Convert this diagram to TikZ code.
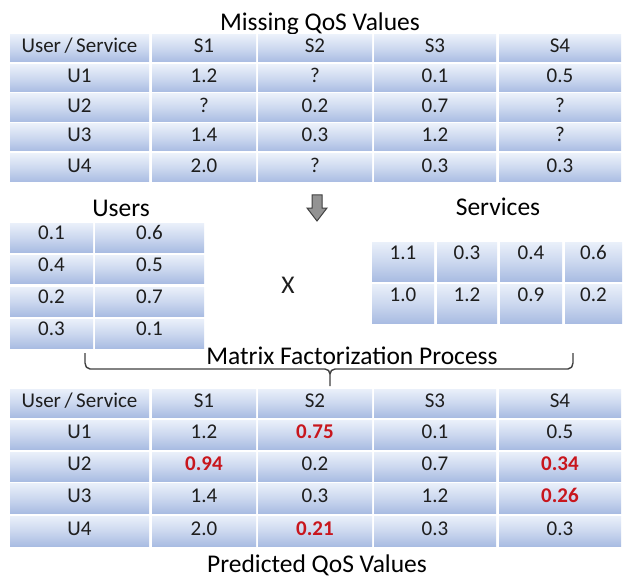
\documentclass[tikz,border=0pt]{standalone}
\usepackage{fontspec}
\setmainfont{Carlito}
\definecolor{cellTop}{HTML}{EAF0FA}
\definecolor{cellMid}{HTML}{CCD8EF}
\definecolor{cellBot}{HTML}{A9BCE2}
\definecolor{txt}{HTML}{1E1E1E}
\definecolor{predred}{HTML}{C8161D}
\definecolor{brc}{HTML}{404040}
\newcommand\cellfont{\fontsize{21}{24}\selectfont}
\newcommand\titlefont{\fontsize{25.5}{30}\selectfont}
\newcommand\us{User\,/\,Service}
\newcommand\rv[1]{\textcolor{predred}{\textbf{#1}}}
% #1 prefix, #2 y1, #3 y2, #4 depth, #5 list xa/xb/text
\newcommand\trow[5]{%
  \foreach \xa/\xb/\tx [count=\k] in {#5} {%
    \node[cell,text depth=#4pt,minimum width={\xb-\xa},minimum height={#3-#2}]
      (#1-\k) at ({(\xa+\xb)/2},{(#2+#3)/2}) {\tx};
  }}
\tikzset{
  cell/.style={top color=cellTop, bottom color=cellBot, middle color=cellMid,
    draw=none, inner sep=0pt, font=\cellfont, text=txt, text height=13pt},
  ttl/.style={font=\titlefont, text=black, inner sep=0pt, anchor=base},
  bracestyle/.style={draw=brc, line width=1.4pt, line join=round},
}
\begin{document}
\begin{tikzpicture}[x=1pt,y=-1pt]
\useasboundingbox[fill=white] (0,0) rectangle (625,578);
% titles
\node[ttl] (tmiss) at (320,31) {Missing QoS Values};
\node[ttl] (tusers) at (121,216) {Users};
\node[ttl] (tserv) at (498,215) {Services};
\node[ttl] (tmf) at (352,364) {Matrix Factorization Process};
\node[ttl] (tpred) at (317,572) {Predicted QoS Values};
\node[font=\titlefont, text=txt, inner sep=0pt] (times) at (288,285) {X};
% top table
\trow{a0}{35}{62}{4.4}{10/149/\us,152/256/S1,258/372/S2,374/496/S3,499/621/S4}
\trow{a1}{65}{92}{4.4}{10/149/U1,152/256/1.2,258/372/?,374/496/0.1,499/621/0.5}
\trow{a2}{94}{122}{4.4}{10/149/U2,152/256/?,258/372/0.2,374/496/0.7,499/621/?}
\trow{a3}{124}{151}{4.4}{10/149/U3,152/256/1.4,258/372/0.3,374/496/1.2,499/621/?}
\trow{a4}{154}{182}{4.4}{10/149/U4,152/256/2.0,258/372/?,374/496/0.3,499/621/0.3}
% users
\trow{u1}{223}{252}{8.4}{10/93/0.1,95/204/0.6}
\trow{u2}{255}{283}{8.4}{10/93/0.4,95/204/0.5}
\trow{u3}{287}{316}{8.4}{10/93/0.2,95/204/0.7}
\trow{u4}{319}{348}{8.4}{10/93/0.3,95/204/0.1}
% services
\trow{s1}{242}{281}{17.4}{372/434/1.1,437/497/0.3,500/562/0.4,565/622/0.6}
\trow{s2}{284}{323}{17.4}{372/434/1.0,437/497/1.2,500/562/0.9,565/622/0.2}
% bottom table
\trow{b0}{389}{417}{4.4}{10/149/\us,152/256/S1,258/372/S2,374/496/S3,499/621/S4}
\trow{b1}{420}{449}{4.4}{10/149/U1,152/256/1.2,258/372/\rv{0.75},374/496/0.1,499/621/0.5}
\trow{b2}{452}{481}{4.4}{10/149/U2,152/256/\rv{0.94},258/372/0.2,374/496/0.7,499/621/\rv{0.34}}
\trow{b3}{483}{513}{4.4}{10/149/U3,152/256/1.4,258/372/0.3,374/496/1.2,499/621/\rv{0.26}}
\trow{b4}{516}{546}{4.4}{10/149/U4,152/256/2.0,258/372/\rv{0.21},374/496/0.3,499/621/0.3}
% down arrow
\draw[fill=gray!85, draw=black!75, line width=1pt, line join=miter]
  (312,195) -- (322,195) -- (322,208) -- (327,208) -- (317,221) -- (307,208) -- (312,208) -- cycle;
% brace
\draw[bracestyle] (85,353) -- (85,363) to[out=-90,in=180] (90,369) -- (325,369)
  to[out=0,in=90] (330,374) -- (330,386);
\draw[bracestyle] (330,374) to[out=90,in=180] (335,369) -- (568,369)
  to[out=0,in=-90] (573,363) -- (573,353);
\end{tikzpicture}
\end{document}
